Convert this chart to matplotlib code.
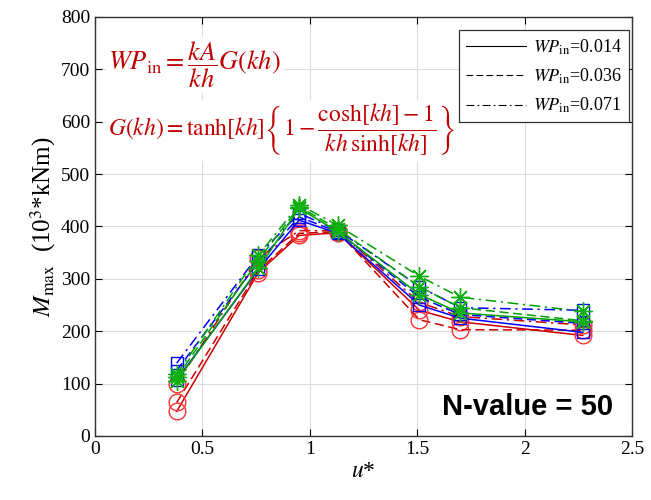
import numpy as np
import matplotlib.pyplot as plt

plt.rcParams['font.family'] = ['Liberation Serif', 'DejaVu Serif']
plt.rcParams['mathtext.fontset'] = 'stix'

u = [0.38, 0.76, 0.95, 1.13, 1.51, 1.70, 2.27]

# red circles
red_014 = [47, 312, 383, 388, 240, 218, 192]
red_036 = [64, 316, 387, 390, 222, 203, 202]
red_071 = [100, 340, 392, 392, 255, 228, 212]
# blue squares
blue_014 = [107, 318, 412, 387, 250, 225, 198]
blue_036 = [125, 332, 418, 390, 265, 232, 215]
blue_071 = [139, 345, 425, 393, 285, 245, 240]
# green stars
green_014 = [105, 320, 435, 390, 270, 235, 218]
green_036 = [112, 335, 438, 395, 285, 245, 220]
green_071 = [118, 345, 442, 402, 305, 265, 238]

wp_labels = ['0.014', '0.036', '0.071']
styles = ['-', (0, (6, 3)), (0, (7, 3, 1.5, 3))]

fig = plt.figure(figsize=(6.51, 5.0), dpi=100)
ax = fig.add_axes([0.146, 0.128, 0.825, 0.838])

groups = [
    ([red_014, red_036, red_071], '#cc0000', '#ff3030', 'o', 12),
    ([blue_014, blue_036, blue_071], '#0000ff', '#0000ff', 's', 9),
    ([green_014, green_036, green_071], '#00a000', '#10b010', (8, 2, 0), 13),
]
for series, lc, mc, mk, ms in groups:
    for y, ls in zip(series, styles):
        ax.plot(u, y, linestyle=ls, color=lc, lw=1.1, marker=mk, ms=ms,
                mfc='none', mec=mc, mew=1.0)

# legend with black line styles only
handles = [ax.plot([], [], color='k', linestyle=ls, lw=0.8)[0] for ls in styles]
leg = ax.legend(handles, ['$WP_{\\rm in}$=' + w for w in wp_labels],
                loc='upper right', fontsize=13, fancybox=False, framealpha=1,
                edgecolor='#333333', handlelength=3.3, borderpad=0.4,
                labelspacing=0.55, handletextpad=0.4, borderaxespad=0,
                bbox_to_anchor=(0.995, 0.969))
leg.get_frame().set_linewidth(0.9)

ax.set_xlim(0, 2.5)
ax.set_ylim(0, 800)
ax.set_xticks([0, 0.5, 1, 1.5, 2, 2.5])
ax.set_xticklabels(['0', '0.5', '1', '1.5', '2', '2.5'])
ax.set_yticks(np.arange(0, 801, 100))
ax.grid(True, color='#dddddd', lw=0.8)
ax.set_axisbelow(True)
ax.tick_params(direction='in', top=True, right=True, labelsize=14, length=5)
for sp in ax.spines.values():
    sp.set_color('#333333')
    sp.set_linewidth(1.0)

ax.set_xlabel('$u$*', fontsize=17, labelpad=2)
ax.set_ylabel('$M_{\\rm max}$  (10$^3$*kNm)', fontsize=18, labelpad=2)

fc = '#c00000'
ax.text(0.025, 0.885, r'$WP_{\rm in}=\dfrac{kA}{kh}G(kh)$', transform=ax.transAxes,
        fontsize=19, color=fc, va='center', ha='left',
        bbox=dict(facecolor='white', edgecolor='none', pad=2))
ax.text(0.025, 0.73, r'$G(kh)=\tanh[kh]\left\{1-\dfrac{\cosh[kh]-1}{kh\,\sinh[kh]}\right\}$',
        transform=ax.transAxes, fontsize=17, color=fc, va='center', ha='left',
        bbox=dict(facecolor='white', edgecolor='none', pad=2))

ax.text(0.965, 0.07, 'N-value = 50', transform=ax.transAxes, fontsize=21,
        fontweight='bold', family='Liberation Sans', ha='right', va='center')

fig.savefig('out.png', dpi=100)
